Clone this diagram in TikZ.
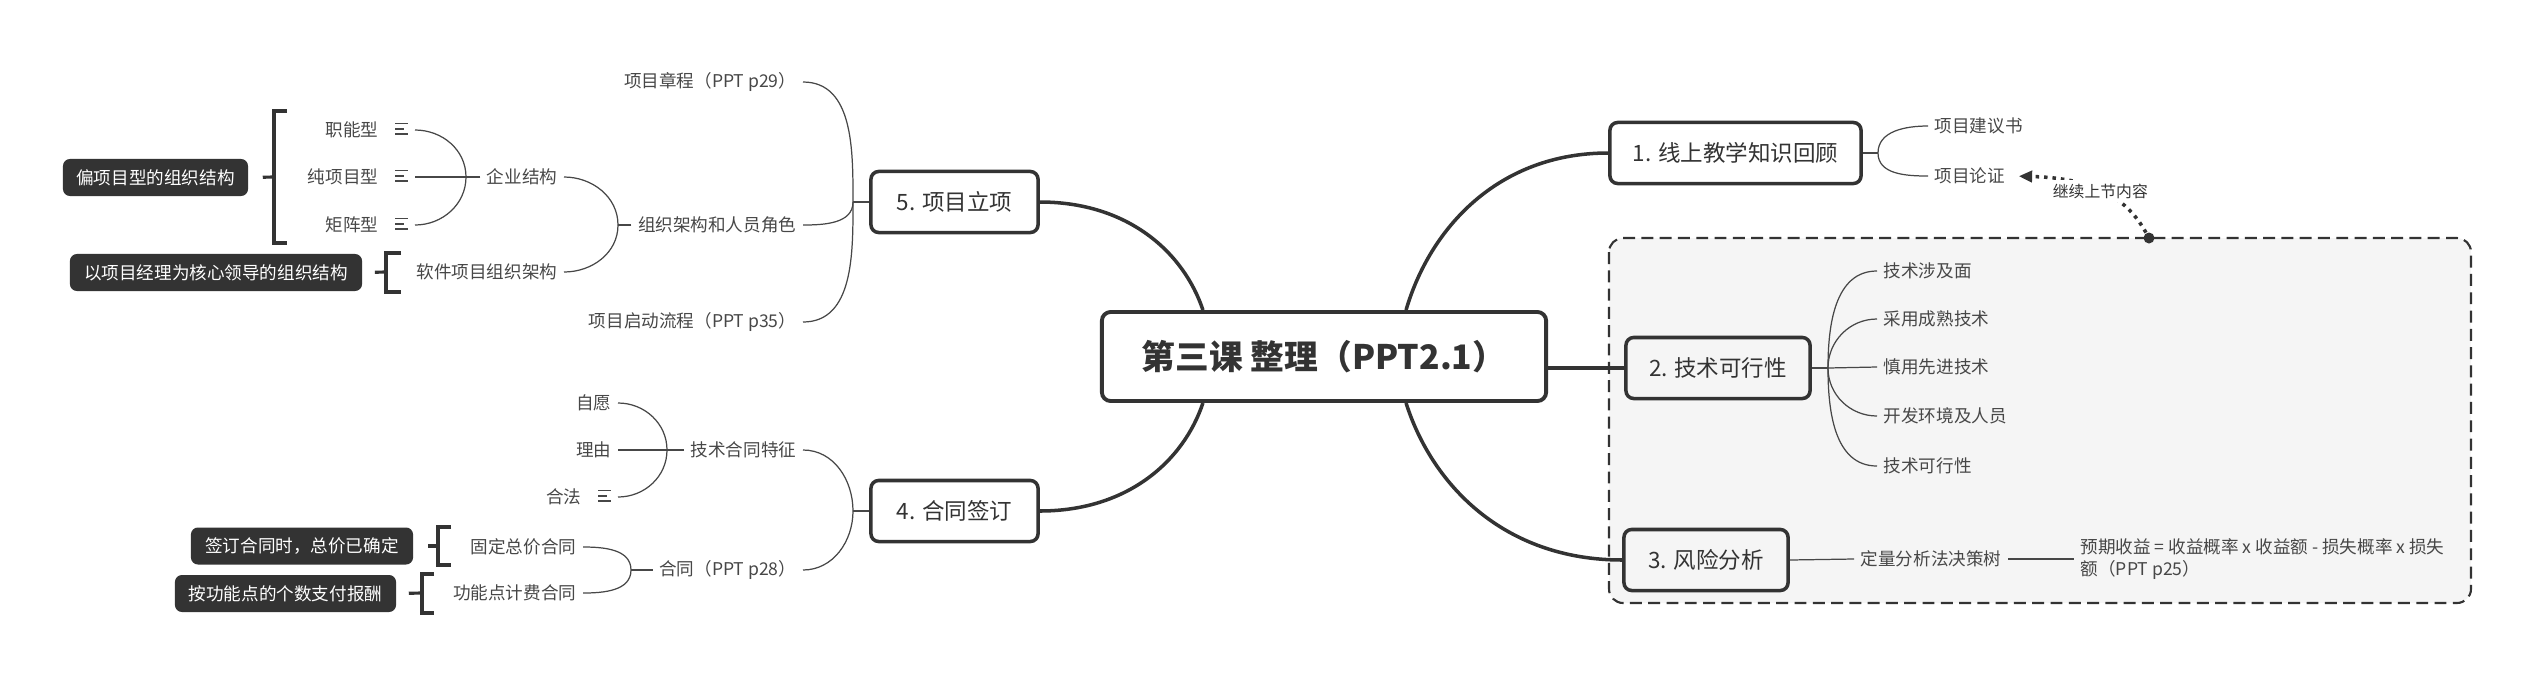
\documentclass[tikz,border=0pt]{standalone}
\usepackage{fontspec}
\setmainfont{Noto Sans CJK SC}
\usepackage{tikz}
\usetikzlibrary{arrows.meta,calc}

\definecolor{inkc}{HTML}{333333}
\definecolor{leafc}{HTML}{474747}
\definecolor{groupc}{HTML}{F5F5F5}

% small notes icon after a topic
\newcommand{\noteicon}{\hspace{0.17cm}\raisebox{0.2ex}{\vbox{\hrule width 0.13cm height 0.4pt\vskip 1.1pt\hrule width 0.09cm height 0.4pt\vskip 1.1pt\hrule width 0.13cm height 0.4pt}}}

\tikzset{
  rootbox/.style={draw=inkc, line width=1.1pt, rounded corners=2.5pt, fill=white, text=inkc,
    minimum width=4.44cm, minimum height=0.89cm, font=\bfseries\fontsize{9.6}{11}\selectfont},
  topicbox/.style={draw=inkc, line width=1pt, rounded corners=2.2pt, fill=white, text=inkc,
    minimum height=0.61cm, font=\fontsize{6.4}{7.5}\selectfont},
  leaf/.style={text=leafc, inner xsep=0.06cm, inner ysep=0.02cm, font=\fontsize{5}{6}\selectfont},
  callout/.style={fill=inkc, rounded corners=2pt, text=white, inner sep=0pt,
    minimum height=0.37cm, font=\fontsize{5}{6}\selectfont},
  mainline/.style={draw=inkc, line width=1pt},
  subline/.style={draw=leafc, line width=0.35pt},
  bracket/.style={draw=inkc, line width=0.9pt},
}

\begin{document}
\begin{tikzpicture}[x=0.01cm, y=-0.01cm]
    \useasboundingbox (0,0) rectangle (2532,675);

    % Group frame
    \draw[inkc, line width=0.6pt, dash pattern=on 3.4pt off 1.8pt, fill=groupc, rounded corners=4pt]
        (1609,238) rectangle (2471,603);

    % Central topic and main branches
    \node[rootbox] (root) at (1324,356.5) {第三课 整理（PPT2.1）};
    \node[topicbox, minimum width=2.51cm] (t1) at (1735.5,153) {1. 线上教学知识回顾};
    \node[topicbox, minimum width=1.84cm, fill=groupc] (t2) at (1718,368) {2. 技术可行性};
    \node[topicbox, minimum width=1.64cm, fill=groupc] (t3) at (1706,560) {3. 风险分析};
    \node[topicbox, minimum width=1.67cm] (t4) at (954.5,511) {4. 合同签订};
    \node[topicbox, minimum width=1.67cm] (t5) at (954.5,202) {5. 项目立项};

    \draw[mainline] ([xshift=0.82cm]root.north) .. controls +(24,-82) and +(-110,0) .. (t1.west);
    \draw[mainline] (t2.west) -- (t2.west -| root.east);
    \draw[mainline] ([xshift=0.82cm]root.south) .. controls +(26,82) and +(-118,0) .. (t3.west);
    \draw[mainline] ([xshift=-1.21cm]root.south) .. controls +(-19,57) and +(89,0) .. (t4.east);
    \draw[mainline] ([xshift=-1.21cm]root.north) .. controls +(-19,-57) and +(89,0) .. (t5.east);

    % Branch 1
    \node[leaf, anchor=west] (r11) at (1928,126) {项目建议书};
    \node[leaf, anchor=west] (r12) at (1928,176) {项目论证};
    \coordinate (j1) at (1878,153);
    \draw[subline] (t1.east) -- (j1);
    \draw[subline] (j1) to[out=90,in=180] (r11.west);
    \draw[subline] (j1) to[out=-90,in=180] (r12.west);

    % Branch 2
    \node[leaf, anchor=west] (r21) at (1877,271) {技术涉及面};
    \node[leaf, anchor=west] (r22) at (1877,319) {采用成熟技术};
    \node[leaf, anchor=west] (r23) at (1877,367) {慎用先进技术};
    \node[leaf, anchor=west] (r24) at (1877,416) {开发环境及人员};
    \node[leaf, anchor=west] (r25) at (1877,466) {技术可行性};
    \coordinate (j2) at (1828,368);
    \draw[subline] (t2.east) -- (j2);
    \draw[subline] (j2) to[out=90,in=180] (r21.west);
    \draw[subline] (j2) to[out=90,in=180] (r22.west);
    \draw[subline] (j2) -- (r23.west);
    \draw[subline] (j2) to[out=-90,in=180] (r24.west);
    \draw[subline] (j2) to[out=-90,in=180] (r25.west);

    % Branch 3
    \node[leaf, anchor=west] (r31) at (1854,559) {定量分析法决策树};
    \node[leaf, anchor=west, align=left, font=\fontsize{5}{6.5}\selectfont] (r32) at (2074,559)
        {预期收益 = 收益概率 x 收益额 - 损失概率 x 损失\\额（PPT p25）};
    \draw[subline] (t3.east) -- (r31.west);
    \draw[subline] (r31.east) -- (r32.west);

    % Link back to the last lesson
    \node[circle, fill=inkc, inner sep=0pt, minimum size=0.11cm] (dot) at (2149,238) {};
    \draw[inkc, line width=1pt, dash pattern=on 1pt off 1.4pt, -{Triangle[length=3.8pt,width=3.2pt]}, shorten >=0.07cm]
        (dot) .. controls (2125,195) and (2090,178) .. (r12.east)
        node[pos=.5, fill=white, text=inkc, inner sep=1pt, font=\fontsize{4.5}{5}\selectfont] (memo) {继续上节内容};

    % Branch 5
    \node[leaf, anchor=east] (p1) at (803,82) {项目章程（PPT p29）};
    \node[leaf, anchor=east] (p2) at (803,225) {组织架构和人员角色};
    \node[leaf, anchor=east] (p3) at (803,322) {项目启动流程（PPT p35）};
    \node[leaf, anchor=east] (p21) at (564,177) {企业结构};
    \node[leaf, anchor=east] (p22) at (564,272) {软件项目组织架构};
    \node[leaf, anchor=east] (p211) at (415,130) {职能型\noteicon};
    \node[leaf, anchor=east] (p212) at (415,177) {纯项目型\noteicon};
    \node[leaf, anchor=east] (p213) at (415,225) {矩阵型\noteicon};
    \coordinate (j5) at (853,202);
    \coordinate (jorg) at (618,225);
    \coordinate (jent) at (466,177);
    \draw[subline] (t5.west) -- (j5);
    \draw[subline] (j5) to[out=90,in=0] (p1.east);
    \draw[subline] (j5) to[out=-90,in=0] (p2.east);
    \draw[subline] (j5) to[out=-90,in=0] (p3.east);
    \draw[subline] (p2.west) -- (jorg);
    \draw[subline] (jorg) to[out=90,in=0] (p21.east);
    \draw[subline] (jorg) to[out=-90,in=0] (p22.east);
    \draw[subline] (p21.west) -- (p212.east);
    \draw[subline] (jent) to[out=90,in=0] (p211.east);
    \draw[subline] (jent) to[out=-90,in=0] (p213.east);

    % Branch 4
    \node[leaf, anchor=east] (h1) at (803,450) {技术合同特征};
    \node[leaf, anchor=east] (h2) at (803,570) {合同（PPT p28）};
    \node[leaf, anchor=east] (h11) at (618,403) {自愿};
    \node[leaf, anchor=east] (h12) at (618,450) {理由};
    \node[leaf, anchor=east] (h13) at (618,497) {合法\noteicon};
    \node[leaf, anchor=east] (h21) at (583,547) {固定总价合同};
    \node[leaf, anchor=east] (h22) at (583,593) {功能点计费合同};
    \coordinate (j4) at (853,511);
    \coordinate (jtech) at (667,450);
    \coordinate (jcon) at (631,570);
    \draw[subline] (t4.west) -- (j4);
    \draw[subline] (j4) to[out=90,in=0] (h1.east);
    \draw[subline] (j4) to[out=-90,in=0] (h2.east);
    \draw[subline] (h1.west) -- (h12.east);
    \draw[subline] (jtech) to[out=90,in=0] (h11.east);
    \draw[subline] (jtech) to[out=-90,in=0] (h13.east);
    \draw[subline] (h2.west) -- (jcon);
    \draw[subline] (jcon) to[out=90,in=0] (h21.east);
    \draw[subline] (jcon) to[out=-90,in=0] (h22.east);

    % Summaries
    \node[callout, minimum width=1.85cm] (s1) at (155.5,177.5) {偏项目型的组织结构};
    \node[callout, minimum width=2.92cm] (s2) at (216,272.5) {以项目经理为核心领导的组织结构};
    \node[callout, minimum width=2.22cm] (s3) at (302,546) {签订合同时，总价已确定};
    \node[callout, minimum width=2.21cm] (s4) at (285.5,593.5) {按功能点的个数支付报酬};
    \coordinate (b1) at (274,177);
    \coordinate (b2) at (386,272);
    \coordinate (b3) at (438,546);
    \coordinate (b4) at (422,593);
    \draw[bracket] (287,111) -- (274,111) -- (274,243) -- (287,243);
    \draw[bracket] (401,253) -- (386,253) -- (386,292) -- (401,292);
    \draw[bracket] (451,527) -- (438,527) -- (438,565) -- (451,565);
    \draw[bracket] (434,574) -- (422,574) -- (422,613) -- (434,613);
    \draw[bracket, shorten >=0.14cm] (b1) -- (s1.east);
    \draw[bracket, shorten >=0.12cm] (b2) -- (s2.east);
    \draw[bracket, shorten >=0.14cm] (b3) -- (s3.east);
    \draw[bracket, shorten >=0.12cm] (b4) -- (s4.east);
\end{tikzpicture}
\end{document}
